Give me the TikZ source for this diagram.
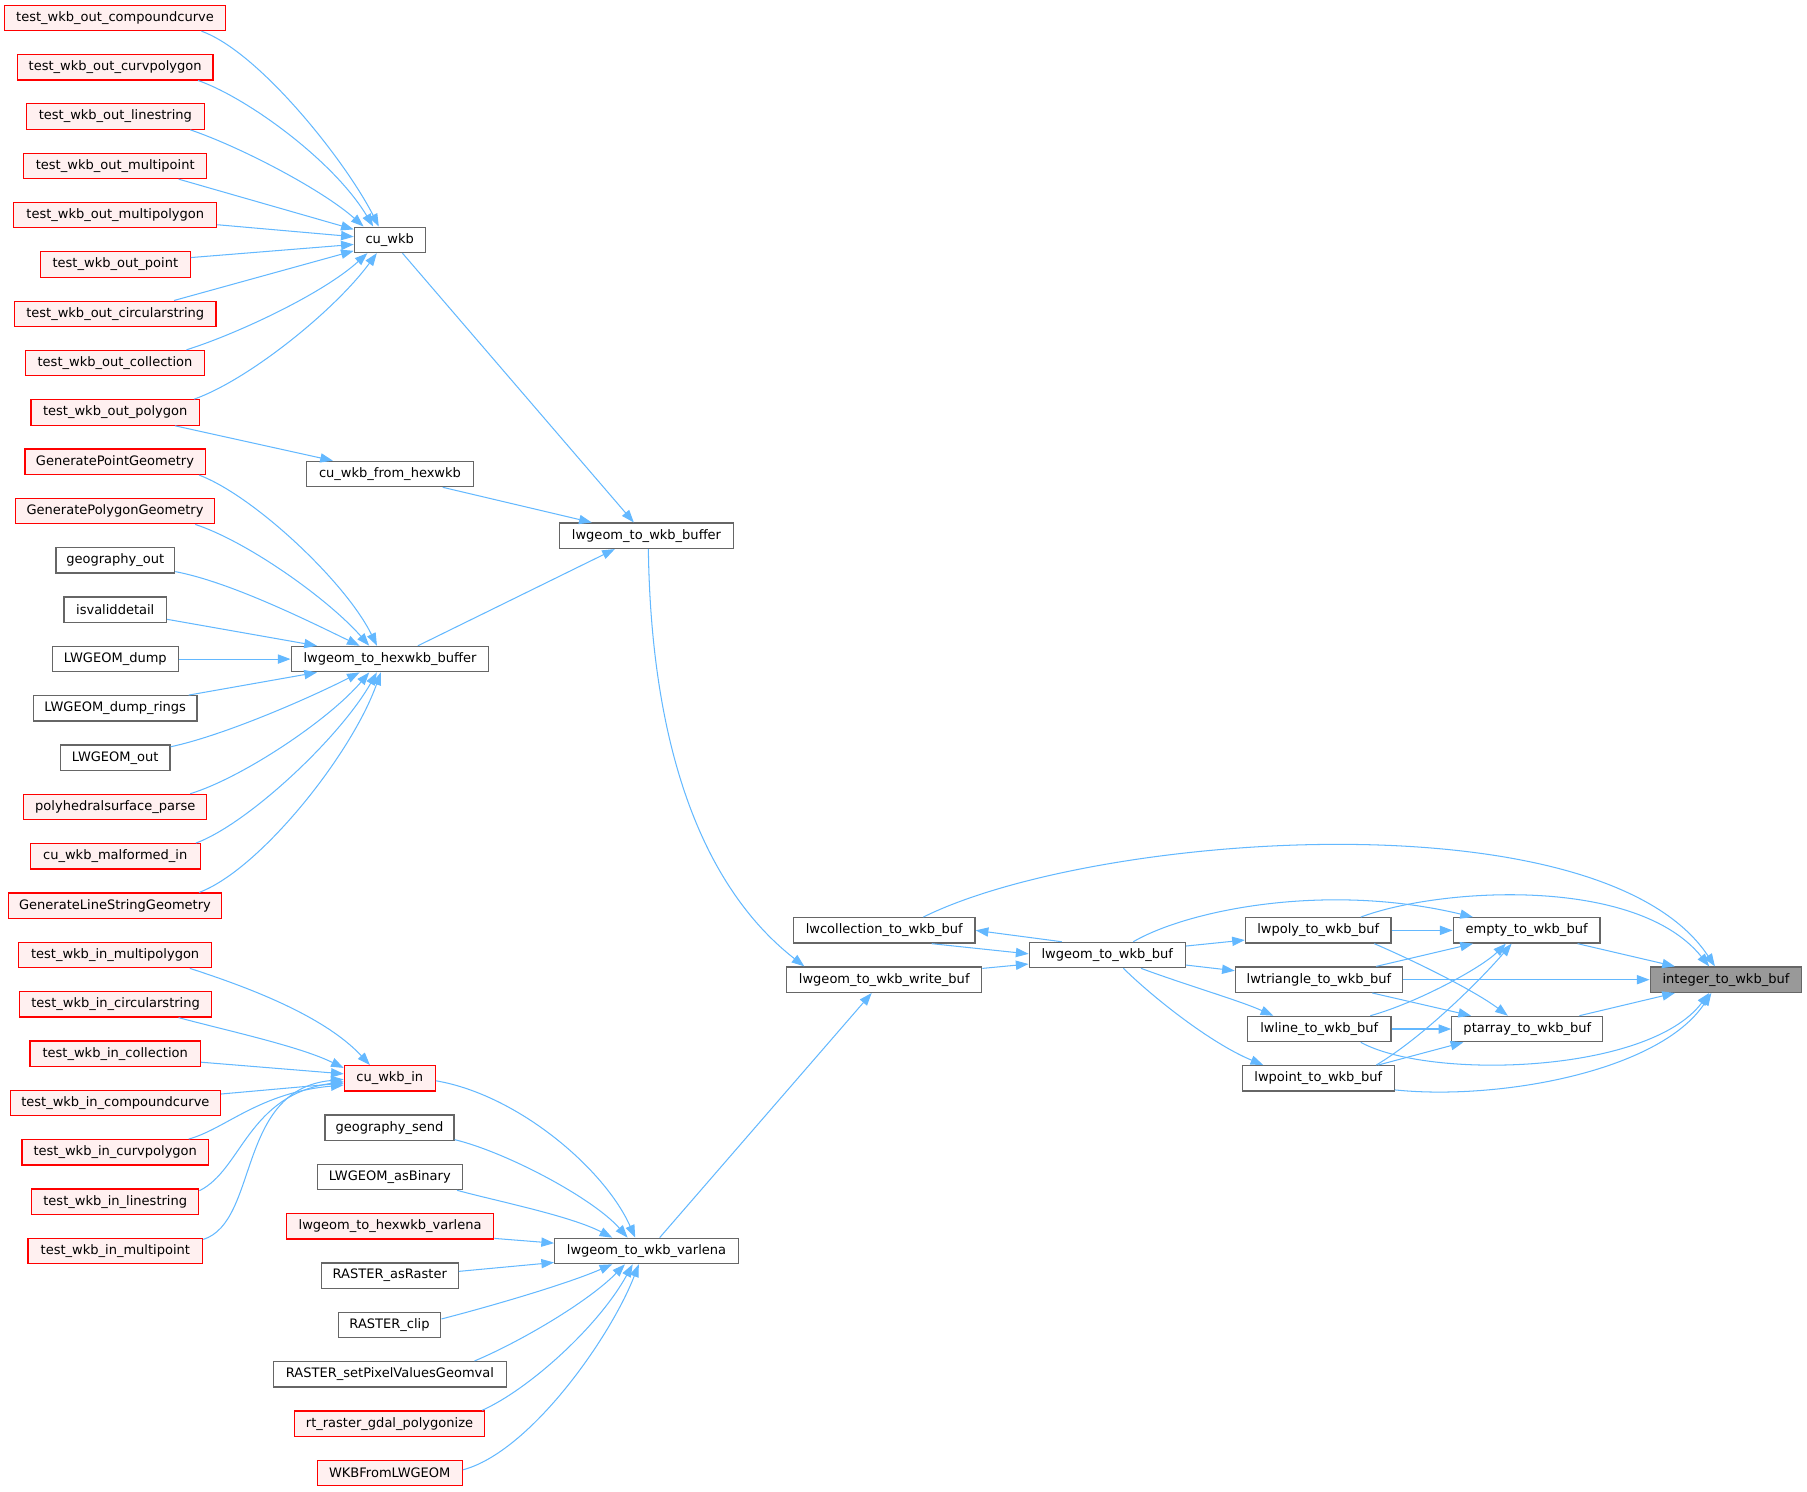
\documentclass[tikz,border=0pt]{standalone}
\usepackage{fontspec}
\setmainfont{DejaVu Sans}
\usetikzlibrary{arrows.meta,calc}
\definecolor{nodered}{HTML}{FF0000}
\definecolor{nodefill}{HTML}{FFF0F0}
\definecolor{nodegray}{HTML}{666666}
\definecolor{nodedark}{HTML}{999999}
\definecolor{linkblue}{HTML}{63B8FF}
\newcommand{\dvs}{\fontsize{11.3}{13}\selectfont}
\tikzset{
  box/.style={rectangle, minimum height=22pt, inner xsep=3pt, inner ysep=0pt, line width=1.1pt, font=\dvs, text=black},
  rbox/.style={box, draw=nodered, fill=nodefill},
  gbox/.style={box, draw=nodegray, fill=white},
  hbox/.style={box, draw=nodegray, fill=nodedark},
  link/.style={draw=linkblue, line width=0.9pt, -{Triangle[length=11pt,width=8pt]}},
}
\begin{document}
\begin{tikzpicture}[x=1pt,y=-1pt]
\useasboundingbox (0,0) rectangle (1568,1294);
% left column
\node[rbox, minimum width=191.6pt] (oc) at (99.8,15.5) {test\_wkb\_out\_compoundcurve};
\node[rbox, minimum width=170pt] (ocv) at (99.9,58.3) {test\_wkb\_out\_curvpolygon};
\node[rbox, minimum width=154.4pt] (ols) at (100.1,101.1) {test\_wkb\_out\_linestring};
\node[rbox, minimum width=158.7pt] (omp) at (100,143.9) {test\_wkb\_out\_multipoint};
\node[rbox, minimum width=176pt] (ompg) at (100,186.7) {test\_wkb\_out\_multipolygon};
\node[rbox, minimum width=129.8pt] (opt) at (100.1,229.5) {test\_wkb\_out\_point};
\node[rbox, minimum width=174.7pt] (ocs) at (100,272.3) {test\_wkb\_out\_circularstring};
\node[rbox, minimum width=155pt] (ocol) at (99.8,315.1) {test\_wkb\_out\_collection};
\node[rbox, minimum width=146pt] (opg) at (100,357.9) {test\_wkb\_out\_polygon};
\node[rbox, minimum width=156.4pt] (gpt) at (99.8,400.7) {GeneratePointGeometry};
\node[rbox, minimum width=173pt] (gpg) at (99.8,443.5) {GeneratePolygonGeometry};
\node[gbox, minimum width=103pt] (gout) at (100,486.3) {geography\_out};
\node[gbox, minimum width=89pt] (isv) at (100,529.1) {isvaliddetail};
\node[gbox, minimum width=109pt] (ldump) at (100.1,571.9) {LWGEOM\_dump};
\node[gbox, minimum width=142pt] (lrings) at (100,614.7) {LWGEOM\_dump\_rings};
\node[gbox, minimum width=95pt] (lout) at (100,657.5) {LWGEOM\_out};
\node[rbox, minimum width=158.7pt] (poly) at (100,700.3) {polyhedralsurface\_parse};
\node[rbox, minimum width=147.5pt] (mal) at (100,743.1) {cu\_wkb\_malformed\_in};
\node[rbox, minimum width=184.3pt] (gls) at (99.8,785.9) {GenerateLineStringGeometry};
\node[rbox, minimum width=167.7pt] (imp) at (99.9,828.7) {test\_wkb\_in\_multipolygon};
\node[rbox, minimum width=167pt] (ics) at (100.3,871.5) {test\_wkb\_in\_circularstring};
\node[rbox, minimum width=148pt] (icol) at (100,914.3) {test\_wkb\_in\_collection};
\node[rbox, minimum width=182.4pt] (icc) at (100.1,957.1) {test\_wkb\_in\_compoundcurve};
\node[rbox, minimum width=162pt] (icp) at (100,999.9) {test\_wkb\_in\_curvpolygon};
\node[rbox, minimum width=145pt] (ils) at (100,1042.7) {test\_wkb\_in\_linestring};
\node[rbox, minimum width=151.4pt] (impt) at (100.1,1085.5) {test\_wkb\_in\_multipoint};
% middle column
\node[gbox, minimum width=61.4pt] (cuwkb) at (338.2,208.1) {cu\_wkb};
\node[gbox, minimum width=144.8pt] (cuhex) at (338.4,411.3) {cu\_wkb\_from\_hexwkb};
\node[gbox, minimum width=171.4pt] (hexbuf) at (338.4,571.9) {lwgeom\_to\_hexwkb\_buffer};
\node[rbox, minimum width=78.8pt] (cuin) at (338.2,935.7) {cu\_wkb\_in};
\node[gbox, minimum width=112pt] (gsend) at (338,978.5) {geography\_send};
\node[gbox, minimum width=125.8pt] (asbin) at (338.2,1021.3) {LWGEOM\_asBinary};
\node[rbox, minimum width=180pt] (hexvar) at (338.5,1064.1) {lwgeom\_to\_hexwkb\_varlena};
\node[gbox, minimum width=118.7pt] (asr) at (338.2,1106.9) {RASTER\_asRaster};
\node[gbox, minimum width=89pt] (clip) at (338,1149.7) {RASTER\_clip};
\node[gbox, minimum width=202.3pt] (setpix) at (338.4,1192.5) {RASTER\_setPixelValuesGeomval};
\node[rbox, minimum width=165pt] (gdal) at (338,1235.3) {rt\_raster\_gdal\_polygonize};
\node[rbox, minimum width=125.8pt] (wkbf) at (338.2,1278.1) {WKBFromLWGEOM};
% further columns
\node[gbox, minimum width=150.7pt] (wbuffer) at (561,464.9) {lwgeom\_to\_wkb\_buffer};
\node[gbox, minimum width=159.4pt] (varl) at (561,1085.5) {lwgeom\_to\_wkb\_varlena};
\node[gbox, minimum width=157.6pt] (lwcol) at (767.3,807.3) {lwcollection\_to\_wkb\_buf};
\node[gbox, minimum width=169.2pt] (wbuf) at (767.3,850.1) {lwgeom\_to\_wkb\_write\_buf};
\node[gbox, minimum width=135.5pt] (l2b) at (960.8,828.7) {lwgeom\_to\_wkb\_buf};
\node[gbox, minimum width=126.3pt] (lwpoly) at (1143.9,807.3) {lwpoly\_to\_wkb\_buf};
\node[gbox, minimum width=145pt] (lwtri) at (1144.5,850.1) {lwtriangle\_to\_wkb\_buf};
\node[gbox, minimum width=124.5pt] (lwline) at (1144.8,892.9) {lwline\_to\_wkb\_buf};
\node[gbox, minimum width=132pt] (lwpoint) at (1143.9,935.7) {lwpoint\_to\_wkb\_buf};
\node[gbox, minimum width=127.4pt] (empty) at (1324.7,807.3) {empty\_to\_wkb\_buf};
\node[gbox, minimum width=131pt] (ptarr) at (1325.3,892.9) {ptarray\_to\_wkb\_buf};
\node[hbox, minimum width=131.5pt] (integer) at (1497.7,850.1) {integer\_to\_wkb\_buf};

% into cu_wkb
\path[link] ($(oc.south)+(75,0)$) .. controls (225,45) and (300,140) .. ($(cuwkb.north)+(-9.5,0)$);
\path[link] ($(ocv.south)+(72,0)$) .. controls (215,85) and (290,140) .. ($(cuwkb.north)+(-14.4,0)$);
\path[link] ($(ols.south)+(65,0)$) .. controls (210,128) and (280,165) .. ($(cuwkb.north)+(-22.7,0)$);
\path[link] ($(omp.south)+(55,0)$) -- ($(cuwkb.north west)+(0,2.5)$);
\path[link] ($(ompg.east)+(0,8.3)$) -- ($(cuwkb.west)+(0,-2.7)$);
\path[link] ($(opt.east)+(0,-6)$) -- ($(cuwkb.west)+(0,4)$);
\path[link] ($(ocs.north)+(51,0)$) -- ($(cuwkb.south west)+(0,-2)$);
\path[link] ($(ocol.north)+(62,0)$) .. controls (205,290) and (280,255) .. ($(cuwkb.south)+(-19.4,0)$);
\path[link] ($(opg.north)+(68.4,0)$) .. controls (215,330) and (290,270) .. ($(cuwkb.south)+(-11.2,0)$);
\path[link] ($(opg.south)+(51.8,0)$) -- ($(cuhex.north)+(-49.5,0)$);
% into lwgeom_to_wkb_buffer
\path[link] ($(cuwkb.south)+(11,0)$) -- ($(wbuffer.north)+(-11,0)$);
\path[link] ($(cuhex.south)+(45.8,0)$) -- ($(wbuffer.north)+(-47.5,0)$);
\path[link] ($(hexbuf.north)+(24.2,0)$) -- ($(wbuffer.south)+(-27.5,0)$);
% into lwgeom_to_hexwkb_buffer
\path[link] ($(gpt.south)+(73,0)$) .. controls (220,430) and (300,505) .. ($(hexbuf.north)+(-11.3,0)$);
\path[link] ($(gpg.south)+(69.6,0)$) .. controls (215,470) and (285,520) .. ($(hexbuf.north)+(-18,0)$);
\path[link] ($(gout.east)+(0,9.7)$) .. controls (200,505) and (270,540) .. ($(hexbuf.north)+(-26.3,0)$);
\path[link] ($(isv.east)+(0,8.3)$) -- ($(hexbuf.north west)+(22.9,0)$);
\path[link] (ldump.east) -- (hexbuf.west);
\path[link] ($(lrings.north)+(63.7,0)$) -- ($(hexbuf.south west)+(22.9,0)$);
\path[link] ($(lout.east)+(0,-9.5)$) .. controls (195,638) and (270,605) .. ($(hexbuf.south)+(-26.3,0)$);
\path[link] ($(poly.north)+(65,0)$) .. controls (210,675) and (285,625) .. ($(hexbuf.south)+(-18,0)$);
\path[link] ($(mal.north)+(70,0)$) .. controls (215,715) and (295,640) .. ($(hexbuf.south)+(-11.4,0)$);
\path[link] ($(gls.north)+(73,0)$) .. controls (225,755) and (305,655) .. ($(hexbuf.south)+(-8,0)$);
% into lwgeom_to_wkb_write_buf
\path[link] ($(wbuffer.south)+(1.6,0)$) .. controls (565,650) and (610,770) .. ($(wbuf.north west)+(15.8,0)$);
\path[link] ($(varl.north)+(11.4,0)$) -- ($(wbuf.south)+(-10.9,0)$);
% into cu_wkb_in
\path[link] ($(imp.south)+(64.8,0)$) .. controls (210,855) and (280,880) .. ($(cuin.north)+(-17.2,0)$);
\path[link] ($(ics.south)+(54.7,0)$) .. controls (200,895) and (260,908) .. ($(cuin.west)+(0,-9)$);
\path[link] ($(icol.east)+(0,7.4)$) -- ($(cuin.west)+(0,-3.9)$);
\path[link] ($(icc.east)+(0,-7.8)$) -- ($(cuin.west)+(0,4.1)$);
\path[link] ($(icp.north)+(63.8,0)$) .. controls (195,980) and (225,948) .. ($(cuin.west)+(0,5.8)$);
\path[link] ($(ils.east)+(0,-9.5)$) .. controls (210,1015) and (215,950) .. ($(cuin.west)+(0,2.9)$);
\path[link] ($(impt.east)+(0,-10)$) .. controls (225,1060) and (205,945) .. ($(cuin.west)+(0,0.9)$);
% into lwgeom_to_wkb_varlena
\path[link] ($(cuin.east)+(0,2.1)$) .. controls (450,950) and (525,1015) .. ($(varl.north)+(-9.8,0)$);
\path[link] ($(gsend.east)+(0,10.4)$) .. controls (440,1000) and (515,1040) .. ($(varl.north)+(-16.4,0)$);
\path[link] ($(asbin.south east)+(-5,0)$) .. controls (430,1042) and (495,1055) .. ($(varl.north)+(-29.7,0)$);
\path[link] ($(hexvar.east)+(0,10.5)$) -- ($(varl.west)+(0,-6.8)$);
\path[link] ($(asr.east)+(0,-3.7)$) -- ($(varl.west)+(0,10)$);
\path[link] ($(clip.east)+(0,-5.2)$) .. controls (420,1135) and (490,1115) .. ($(varl.south)+(-29.7,0)$);
\path[link] ($(setpix.north)+(73.3,0)$) .. controls (450,1165) and (510,1130) .. ($(varl.south)+(-18.7,0)$);
\path[link] ($(gdal.north)+(80.4,0)$) .. controls (460,1205) and (520,1150) .. ($(varl.south)+(-12,0)$);
\path[link] ($(wkbf.east)+(0,-2.7)$) .. controls (460,1260) and (530,1160) .. ($(varl.south)+(-6.7,0)$);
% right cluster
\path[link] ($(lwcol.south)+(41.2,0)$) -- ($(l2b.west)+(0,-1)$);
\path[link] ($(wbuf.east)+(0,-9.8)$) -- ($(l2b.west)+(0,7.8)$);
\path[link] ($(l2b.north)+(-39.5,0)$) -- (lwcol.east);
\path[link] ($(l2b.east)+(0,-7.8)$) -- ($(lwpoly.west)+(0,8.4)$);
\path[link] ($(l2b.east)+(0,8.7)$) -- ($(lwtri.west)+(0,-7.8)$);
\path[link] ($(l2b.south)+(29.3,0)$) .. controls (1030,855) and (1075,868) .. ($(lwline.north)+(-39.9,0)$);
\path[link] ($(l2b.south)+(14,0)$) .. controls (1000,865) and (1050,905) .. ($(lwpoint.north)+(-47.7,0)$);
\path[link] ($(l2b.north)+(22.6,0)$) .. controls (1030,790) and (1150,765) .. ($(empty.north)+(-46.6,0)$);
\path[link] ($(lwcol.north)+(33.9,0)$) .. controls (950,722) and (1390,690) .. ($(integer.north)+(-9.6,0)$);
\path[link] ($(lwpoly.north)+(36.9,0)$) .. controls (1250,770) and (1420,760) .. ($(integer.north)+(-14.6,0)$);
\path[link] (lwpoly.east) -- (empty.west);
\path[link] ($(lwpoly.south)+(48.6,0)$) .. controls (1230,835) and (1280,860) .. ($(ptarr.north)+(-16.9,0)$);
\path[link] ($(lwtri.north)+(49.7,0)$) -- ($(empty.south)+(-46.6,0)$);
\path[link] (lwtri.east) -- (integer.west);
\path[link] ($(lwtri.south)+(46.3,0)$) -- ($(ptarr.north)+(-48.8,0)$);
\path[link] ($(lwline.north)+(44.3,0)$) .. controls (1230,870) and (1285,840) .. ($(empty.south)+(-18,0)$);
\path[link] (lwline.east) -- (ptarr.west);
\path[link] ($(lwline.south)+(36,0)$) .. controls (1240,937) and (1430,932) .. ($(integer.south)+(-14.6,0)$);
\path[link] ($(lwpoint.north)+(50.3,0)$) .. controls (1235,900) and (1285,850) .. ($(empty.south)+(-13,0)$);
\path[link] ($(lwpoint.north)+(52,0)$) -- ($(ptarr.south)+(-55.5,0)$);
\path[link] ($(lwpoint.south east)+(0,-1.5)$) .. controls (1300,955) and (1440,930) .. ($(integer.south)+(-12.7,0)$);
\path[link] ($(empty.south)+(44.2,0)$) -- ($(integer.north west)+(22,0)$);
\path[link] ($(ptarr.north)+(45.2,0)$) -- ($(integer.south west)+(22,0)$);
\end{tikzpicture}
\end{document}
